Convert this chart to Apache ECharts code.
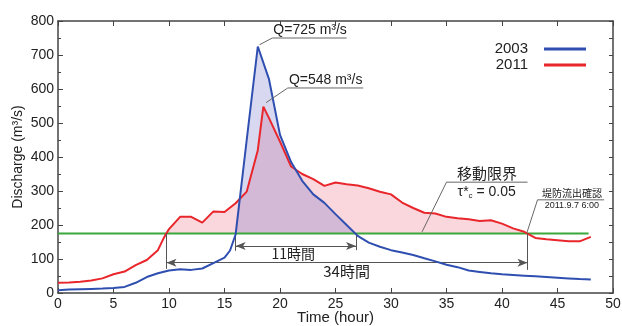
<!DOCTYPE html>
<html>
<head>
<meta charset="utf-8">
<script src="https://cdn.jsdelivr.net/npm/echarts@6/dist/echarts.min.js"></script>
<style>html,body{margin:0;padding:0;background:#fff}#c{width:622px;height:326px}</style>
</head>
<body>
<div id="c"></div>
<script>
// ---- data ----
const hours2003 = [0,1,2,3,4,5,6,7,8,9,10,11,12,13,14,15,15.5,16,17,18,19,20,21,22,23,24,25,26,27,28,29,30,31,32,33,34,35,36,37,38,39,40,41,42,43,44,45,46,47,48];
const flow2003  = [8,10,11,12,13,15,18,30,47,58,66,70,68,72,88,104,125,172,450,725,630,465,385,330,290,265,232,200,168,148,136,126,119,112,102,93,83,76,66,62,58,55,53,51,49,47,45,43,41,40];
const hours2011 = [0,1,2,3,4,5,6,7,8,9,9.5,10,11,12,13,14,15,16,17,18,18.5,19,20,21,22,23,24,25,26,27,28,29,30,31,32,33,34,35,36,37,38,39,40,41,42,43,44,45,46,47,48];
const flow2011  = [30,31,33,37,43,55,63,82,97,126,160,188,224,224,207,240,238,264,298,420,548,515,445,372,350,335,315,325,320,316,308,298,290,266,250,236,234,224,220,217,212,214,204,190,180,162,158,155,152,152,165];
const criticalFlow = 175;          // 移動限界 τ*c = 0.05
const xTicks = [0, 50, 5];         // min, max, interval
const yTicks = [0, 800, 100];
const seriesNames = ['2003', '2011'];
const peakLabels = ['Q=725 m³/s', 'Q=548 m³/s'];
const durations = ['11時間', '34時間'];

// ---- helpers ----
function pairs(xs, ys) { return xs.map((x, i) => [x, ys[i]]); }
// portion of a curve above the base line (crossings located on the curve segments)
function aboveBase(xs, ys, base) {
  const out = [];
  for (let i = 0; i < xs.length; i++) {
    if (i > 0 && (ys[i-1] - base) * (ys[i] - base) < 0) {
      const t = xs[i-1] + (base - ys[i-1]) / (ys[i] - ys[i-1]) * (xs[i] - xs[i-1]);
      out.push([t, base]);
    }
    out.push([xs[i], Math.max(ys[i], base)]);
  }
  return out;
}

const FONT = '"Liberation Sans", Arial, sans-serif';
const JFONT = '"Noto Sans CJK JP", sans-serif';
const axisColor = '#444';

const chart = echarts.init(document.getElementById('c'), null, {renderer: 'canvas'});

const option = {
  animation: false,
  grid: {left: 58, right: 9, top: 21, bottom: 33, containLabel: false, outerBoundsMode: 'none'},
  legend: {
    data: seriesNames, orient: 'vertical', right: 31, top: 36, align: 'right',
    icon: 'rect', itemWidth: 42, itemHeight: 3, itemGap: 0,
    textStyle: {fontSize: 15, color: '#222', fontFamily: FONT, padding: [0, 11, 0, 0], lineHeight: 16}
  },
  xAxis: [{
    type: 'value', min: xTicks[0], max: xTicks[1], interval: xTicks[2], position: 'bottom',
    axisLine: {show: true, onZero: false, lineStyle: {color: axisColor, width: 1.5}},
    axisTick: {show: true, inside: true, length: 5, lineStyle: {color: axisColor}},
    axisLabel: {fontSize: 14, color: '#222', fontFamily: FONT, margin: 4},
    splitLine: {show: false},
    name: 'Time (hour)', nameLocation: 'middle', nameGap: 17, nameMoveOverlap: false,
    nameTextStyle: {fontSize: 15, color: '#222', fontFamily: FONT}
  }, {
    type: 'value', min: xTicks[0], max: xTicks[1], interval: xTicks[2], position: 'top',
    axisLine: {show: true, onZero: false, lineStyle: {color: axisColor, width: 1.5}},
    axisTick: {show: true, inside: true, length: 5, lineStyle: {color: axisColor}},
    axisLabel: {show: false}, splitLine: {show: false}
  }],
  yAxis: [{
    type: 'value', min: yTicks[0], max: yTicks[1], interval: yTicks[2], position: 'left',
    axisLine: {show: true, onZero: false, lineStyle: {color: axisColor, width: 1.5}},
    axisTick: {show: true, inside: true, length: 5, lineStyle: {color: axisColor}},
    minorTick: {show: true, splitNumber: 2, length: 3, lineStyle: {color: axisColor}},
    axisLabel: {fontSize: 14, color: '#222', fontFamily: FONT, margin: 4},
    splitLine: {show: false},
    name: 'Discharge (m³/s)', nameLocation: 'middle', nameGap: 33, nameRotate: 90, nameMoveOverlap: false,
    nameTextStyle: {fontSize: 14, color: '#222', fontFamily: FONT}
  }, {
    type: 'value', min: yTicks[0], max: yTicks[1], interval: 50, position: 'right',
    axisLine: {show: true, onZero: false, lineStyle: {color: axisColor, width: 1.5}},
    axisTick: {show: true, inside: true, length: 4, lineStyle: {color: axisColor}},
    axisLabel: {show: false}, splitLine: {show: false}
  }],
  series: [
    { // 2011 fill above critical flow
      name: 'fill2011', type: 'line', z: 1, symbol: 'none', silent: true,
      data: aboveBase(hours2011, flow2011, criticalFlow),
      lineStyle: {width: 0, opacity: 0},
      areaStyle: {origin: criticalFlow, color: '#fad6dd', opacity: 1}
    },
    { // 2003 fill above critical flow
      name: 'fill2003', type: 'line', z: 2, symbol: 'none', silent: true,
      data: aboveBase(hours2003, flow2003, criticalFlow),
      lineStyle: {width: 0, opacity: 0},
      areaStyle: {origin: criticalFlow, color: 'rgba(99,99,195,0.25)', opacity: 1}
    },
    { // critical flow line with duration annotations
      name: 'critical', type: 'line', z: 3, symbol: 'none', silent: true,
      data: [[0, criticalFlow], [47.8, criticalFlow]],
      lineStyle: {color: '#3aa83a', width: 2},
      markLine: {
        silent: true, symbol: ['none', 'none'], animation: false,
        label: {show: false},
        lineStyle: {color: '#555', width: 1, type: 'solid'},
        emphasis: {disabled: true},
        data: [
          [{coord: [9.77, criticalFlow]}, {coord: [9.77, 71]}],
          [{coord: [16.0, criticalFlow]}, {coord: [16.0, 124]}],
          [{coord: [26.85, criticalFlow]}, {coord: [26.85, 126]}],
          [{coord: [42.3, criticalFlow]}, {coord: [42.3, 68]}],
          [{coord: [16.0, 138], symbol: 'arrow', symbolSize: [6, 10]}, {coord: [26.85, 138], symbol: 'arrow', symbolSize: [6, 10]}],
          [{coord: [9.77, 89], symbol: 'arrow', symbolSize: [6, 10]}, {coord: [42.3, 89], symbol: 'arrow', symbolSize: [6, 10]}]
        ]
      }
    },
    {
      name: seriesNames[1], type: 'line', z: 4, symbol: 'none',
      data: pairs(hours2011, flow2011),
      lineStyle: {color: '#e8262b', width: 2}, itemStyle: {color: '#e8262b'}
    },
    {
      name: seriesNames[0], type: 'line', z: 5, symbol: 'none',
      data: pairs(hours2003, flow2003),
      lineStyle: {color: '#2f4fb0', width: 2}, itemStyle: {color: '#2f4fb0'}
    }
  ]
};
chart.setOption(option);

// ---- annotations placed in data coordinates ----
const P = (x, y) => chart.convertToPixel({xAxisIndex: 0, yAxisIndex: 0}, [x, y]);
const lineStyle = {stroke: '#666', lineWidth: 1, fill: null};
function poly(pts) { return {type: 'polyline', silent: true, z: 100, shape: {points: pts.map(p => P(p[0], p[1]))}, style: lineStyle}; }
function txt(x, y, text, size, family, align, valign, extra) {
  const p = P(x, y);
  return {type: 'text', silent: true, z: 100, x: p[0], y: p[1],
    style: Object.assign({text: text, fontSize: size, fontFamily: family, fill: '#222', align: align, verticalAlign: valign}, extra || {})};
}
const g = [
  poly([[18.15, 730], [19.3, 750], [26.0, 750]]),
  txt(19.4, 752, peakLabels[0], 14, FONT, 'left', 'bottom'),
  poly([[18.75, 560], [20.7, 603], [27.5, 603]]),
  txt(20.8, 605, peakLabels[1], 14, FONT, 'left', 'bottom'),
  poly([[32.8, 180], [35.0, 326], [42.3, 326]]),
  txt(38.65, 330, '移動限界', 15, JFONT, 'center', 'bottom'),
  {type: 'text', silent: true, z: 100, x: P(36.0, 320)[0], y: P(36.0, 320)[1],
    style: {text: '{a|τ*}{s|c}{a| = 0.05}', fontSize: 14, fontFamily: FONT, fill: '#222', align: 'left', verticalAlign: 'top',
      rich: {a: {fontSize: 14, fontFamily: FONT, fill: '#222', verticalAlign: 'middle', lineHeight: 16},
             s: {fontSize: 8, fontFamily: FONT, fill: '#222', verticalAlign: 'bottom', lineHeight: 16}}}},
  poly([[42.25, 178], [43.2, 274], [49.2, 274]]),
  txt(46.3, 278, '堤防流出確認', 10, JFONT, 'center', 'bottom'),
  txt(46.3, 270, '2011.9.7 6:00', 9, FONT, 'center', 'top'),
  txt(21.2, 136, durations[0], 14, JFONT, 'center', 'top'),
  txt(26.0, 87, durations[1], 15, JFONT, 'center', 'top')
];
chart.setOption({graphic: {elements: g}});
</script>
</body>
</html>
